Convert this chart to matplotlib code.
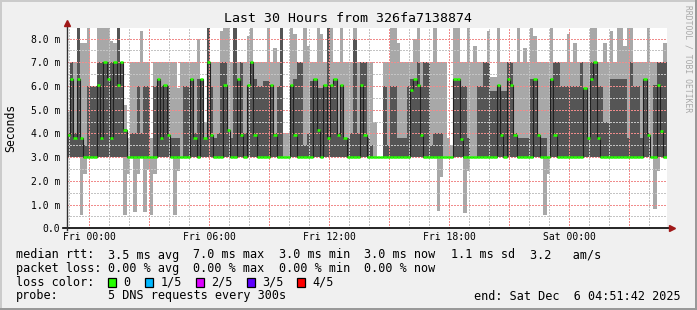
import numpy as np
import matplotlib
matplotlib.use("Agg")
import matplotlib.pyplot as plt
from matplotlib.lines import Line2D
from matplotlib.patches import Rectangle

W, H = 697, 310
MONO = "DejaVu Sans Mono"

# 180 bins of 10 minutes, first bin starts Thu 22:51:42 (end Sat 04:51:42)
bin_hours = 1.0 / 6.0
floor_ms = 3.0

# top of the light smoke (max ping), ms
hi_ms = [
    4.9, 7.0, 7.0, 9.0, 7.8, 7.8, 9.0, 6.0, 6.0, 9.0,
    9.0, 9.0, 9.0, 7.9, 7.8, 9.0, 7.0, 5.2, 3.8, 7.0,
    7.0, 7.0, 8.3, 7.0, 7.0, 3.8, 7.0, 7.0, 7.0, 7.0,
    7.0, 7.0, 7.0, 5.9, 7.0, 7.0, 7.0, 7.0, 7.0, 8.0,
    6.3, 4.5, 9.0, 7.0, 7.0, 7.0, 8.3, 9.0, 9.0, 7.0,
    9.0, 7.0, 7.0, 7.0, 8.1, 9.0, 7.0, 7.0, 7.0, 7.0,
    9.0, 7.0, 7.6, 7.0, 9.0, 4.0, 4.0, 9.0, 8.2, 7.0,
    7.0, 9.0, 7.7, 7.0, 7.0, 9.0, 8.2, 7.0, 9.0, 9.0,
    7.0, 7.0, 9.0, 7.0, 7.0, 7.0, 9.0, 7.0, 7.0, 7.0,
    7.0, 7.0, 4.5, 3.0, 3.0, 7.0, 7.0, 9.0, 9.0, 7.8,
    7.0, 7.0, 7.0, 7.0, 8.0, 9.0, 7.0, 7.0, 7.0, 7.0,
    9.0, 7.0, 7.0, 7.0, 3.8, 3.5, 9.0, 9.0, 7.0, 7.0,
    9.0, 7.0, 7.7, 7.0, 7.0, 7.0, 8.3, 6.4, 6.4, 9.0,
    7.0, 7.0, 7.0, 7.0, 7.0, 9.0, 7.0, 7.6, 7.0, 9.0,
    8.1, 7.0, 7.0, 7.0, 7.0, 9.0, 7.0, 7.0, 7.0, 7.0,
    8.2, 7.0, 7.8, 7.0, 7.0, 7.0, 7.0, 9.0, 9.0, 7.0,
    7.0, 7.8, 7.0, 8.3, 7.0, 9.0, 9.0, 7.7, 9.0, 9.0,
    7.0, 7.0, 7.0, 7.0, 9.0, 7.0, 7.0, 7.0, 7.0, 7.8,
]

# top of the dark smoke (inner pings), ms
dark_ms = [
    4.0, 7.0, 4.0, 9.0, 3.8, 3.5, 6.0, 6.0, 6.0, 7.0,
    7.0, 7.0, 7.0, 7.0, 7.0, 9.0, 7.0, 4.2, 3.0, 4.0,
    4.0, 6.0, 4.0, 6.0, 6.0, 3.0, 6.0, 6.3, 6.0, 6.05,
    6.0, 3.8, 3.8, 3.8, 3.0, 6.0, 6.0, 6.3, 4.0, 6.3,
    6.3, 3.8, 9.0, 6.0, 3.8, 4.0, 7.0, 7.0, 4.15, 3.8,
    9.0, 6.3, 7.0, 4.0, 6.05, 7.0, 6.3, 6.0, 6.0, 6.2,
    6.2, 6.05, 4.0, 6.0, 9.0, 3.0, 3.0, 6.05, 6.3, 7.0,
    7.0, 3.5, 4.0, 6.2, 6.3, 5.9, 5.9, 6.05, 9.0, 6.05,
    6.3, 4.0, 6.05, 3.8, 3.8, 4.0, 8.0, 4.0, 7.0, 7.0,
    3.8, 3.5, 3.0, 3.0, 3.0, 6.0, 3.5, 6.0, 6.0, 3.8,
    3.8, 3.8, 6.0, 6.3, 6.3, 7.0, 6.0, 7.0, 7.0, 3.5,
    4.0, 4.0, 4.0, 3.0, 3.0, 3.0, 6.3, 6.3, 6.0, 6.0,
    3.8, 3.0, 3.0, 6.0, 6.0, 7.0, 7.0, 5.8, 5.8, 6.05,
    5.8, 5.8, 7.0, 7.0, 4.0, 3.8, 3.8, 3.8, 3.8, 6.3,
    6.3, 4.0, 3.8, 3.8, 3.0, 6.3, 7.0, 7.0, 6.0, 6.0,
    6.0, 6.0, 6.0, 6.0, 7.0, 5.9, 3.8, 7.0, 7.0, 6.0,
    6.0, 4.5, 4.5, 6.3, 6.3, 6.3, 6.3, 6.3, 3.8, 7.0,
    6.0, 6.0, 3.8, 6.3, 4.0, 3.0, 6.05, 7.0, 7.0, 7.0,
]

# bottom of the light smoke (min ping), ms
lo_ms = [
    3.0, 3.0, 3.0, 3.0, 0.57, 2.3, 3.0, 3.0, 3.0, 3.0,
    3.0, 3.0, 3.0, 3.0, 3.0, 3.0, 3.0, 0.57, 2.3, 3.0,
    0.7, 2.3, 3.0, 0.7, 2.45, 0.57, 2.3, 3.0, 3.0, 3.0,
    3.0, 3.0, 0.57, 2.4, 3.0, 3.0, 3.0, 3.0, 3.0, 3.0,
    3.0, 3.0, 3.0, 3.0, 3.0, 3.0, 3.0, 3.0, 3.0, 3.0,
    3.0, 3.0, 3.0, 3.0, 3.0, 3.0, 3.0, 3.0, 3.0, 3.0,
    3.0, 3.0, 3.0, 3.0, 3.0, 3.0, 3.0, 3.0, 3.0, 3.0,
    3.0, 3.0, 3.0, 3.0, 3.0, 3.0, 3.0, 3.0, 3.0, 3.0,
    3.0, 3.0, 3.0, 3.0, 3.0, 3.0, 3.0, 3.0, 3.0, 3.0,
    3.0, 3.0, 3.0, 3.0, 3.0, 3.0, 3.0, 3.0, 3.0, 3.0,
    3.0, 3.0, 3.0, 3.0, 3.0, 3.0, 3.0, 3.0, 3.0, 3.0,
    3.0, 0.74, 2.18, 3.0, 3.0, 3.0, 3.0, 3.0, 3.0, 0.66,
    2.43, 3.0, 3.0, 3.0, 3.0, 3.0, 3.0, 3.0, 3.0, 3.0,
    3.0, 3.0, 3.0, 3.0, 3.0, 3.0, 3.0, 3.0, 3.0, 3.0,
    3.0, 3.0, 3.0, 0.56, 2.3, 3.0, 3.0, 3.0, 3.0, 3.0,
    3.0, 3.0, 3.0, 3.0, 3.0, 3.0, 3.0, 3.0, 3.0, 3.0,
    3.0, 3.0, 3.0, 3.0, 3.0, 3.0, 3.0, 3.0, 3.0, 3.0,
    3.0, 3.0, 3.0, 3.0, 3.0, 3.0, 0.81, 2.43, 3.0, 3.0,
]

# median rtt, ms
median_ms = [
    3.93, 6.3, 3.8, 6.3, 3.8, 3.0, 3.0, 3.0, 3.0, 6.05,
    3.8, 7.0, 6.3, 3.8, 7.0, 6.05, 7.0, 4.15, 3.0, 3.0,
    3.0, 3.0, 3.0, 3.0, 3.0, 3.0, 3.0, 6.3, 3.8, 6.05,
    3.93, 3.0, 3.0, 3.0, 3.0, 3.0, 3.0, 6.3, 3.8, 3.0,
    6.3, 3.8, 7.0, 3.93, 3.0, 3.0, 3.0, 6.05, 4.15, 3.0,
    3.0, 6.3, 3.93, 3.0, 6.05, 7.0, 3.93, 3.0, 3.0, 3.0,
    3.0, 6.05, 3.93, 3.0, 3.0, 3.0, 3.0, 6.05, 3.93, 3.0,
    3.0, 3.0, 3.0, 3.0, 6.3, 4.15, 3.0, 6.05, 3.8, 6.05,
    6.3, 3.93, 6.05, 3.8, 3.0, 3.0, 3.0, 3.0, 6.05, 3.93,
    3.0, 3.0, 3.0, 3.0, 3.0, 3.0, 3.0, 3.0, 3.0, 3.0,
    3.0, 3.0, 3.0, 5.85, 6.3, 6.05, 3.93, 3.0, 3.0, 3.0,
    3.0, 3.0, 3.0, 3.0, 3.0, 3.0, 6.3, 6.3, 3.75, 3.0,
    3.0, 3.0, 3.0, 3.0, 3.0, 3.0, 3.0, 3.0, 3.0, 6.05,
    3.93, 3.0, 6.3, 6.05, 3.93, 3.0, 3.0, 3.0, 3.0, 3.0,
    6.3, 3.93, 3.0, 3.0, 3.0, 6.3, 3.93, 3.0, 3.0, 3.0,
    3.0, 3.0, 3.0, 3.0, 3.0, 5.9, 3.8, 6.3, 7.0, 3.8,
    3.0, 3.0, 3.0, 3.0, 3.0, 3.0, 3.0, 3.0, 3.0, 3.0,
    3.0, 3.0, 3.0, 6.3, 3.93, 3.0, 3.0, 6.05, 4.1, 3.0,
]

# time axis (hours since graph start)
first_label_h = 1.0 + 8.0 / 60 + 18.0 / 3600   # Fri 00:00
x_labels = ["Fri 00:00", "Fri 06:00", "Fri 12:00", "Fri 18:00", "Sat 00:00"]
y_labels = ["0.0", "1.0 m", "2.0 m", "3.0 m", "4.0 m", "5.0 m", "6.0 m", "7.0 m", "8.0 m"]

loss_names = ["0", "1/5", "2/5", "3/5", "4/5"]
loss_colors = ["#26ff00", "#00b8ff", "#dd00ff", "#5e00ff", "#ff0000"]


def fx(x):
    return x / W


def fy(y):
    return 1 - y / H


fig = plt.figure(figsize=(W / 100, H / 100), dpi=100, facecolor="#f0f0f0")
ax = fig.add_axes([fx(66.7), fy(228.3), 600 / W, 200.6 / H])
ax.set_facecolor("white")
ax.set_xlim(0, 30)
ax.set_ylim(0, 8.46)
for s in ax.spines.values():
    s.set_visible(False)

t = np.arange(len(hi_ms) + 1) * bin_hours


def ext(v):
    return np.append(v, v[-1])


# smoke
ax.fill_between(t, ext(lo_ms), ext(hi_ms), step="post", color="#a8a8a8",
                lw=0, antialiased=False, zorder=1)
ax.fill_between(t, floor_ms, ext(dark_ms), step="post", color="#555555",
                lw=0, antialiased=False, zorder=1.5)

# grid, drawn over the smoke like rrdtool does
grid_kw = dict(lw=1.0, ls=(0, (1.4, 1.4)), antialiased=False, zorder=2)
major_h = first_label_h + 3 * np.arange(0, 10)
minor_h = [first_label_h - 1 + k for k in range(31) if k % 3 != 1]
for h in minor_h:
    if 0 < h < 30:
        ax.axvline(h, color="#c4c4c4", **grid_kw)
for h in major_h:
    if 0 < h < 30:
        ax.axvline(h, color="#f08c8c", **grid_kw)
for v in np.arange(0.5, 8.4, 1.0):
    ax.axhline(v, color="#c4c4c4", **grid_kw)
for v in range(1, 9):
    ax.axhline(v, color="#f08c8c", **grid_kw)

# median line + loss coloured stubs
ax.step(t, ext(median_ms), where="post", color="#202020", lw=0.8, zorder=3)
ax.hlines(median_ms, t[:-1], t[1:], colors=loss_colors[0], lw=1.8,
          capstyle="butt", zorder=4)

# axes lines with arrows
ax.plot([-0.006, 1.006], [0, 0], transform=ax.transAxes, color="black",
        lw=1.2, clip_on=False, zorder=5)
ax.plot([0, 0], [-0.01, 1.012], transform=ax.transAxes, color="#303030",
        lw=1.0, clip_on=False, zorder=5)
ax.plot([0], [1.021], marker="^", ms=4.2, color="#a01818",
        transform=ax.transAxes, clip_on=False, zorder=6)
ax.plot([1.008], [0], marker=">", ms=4.2, color="#a01818",
        transform=ax.transAxes, clip_on=False, zorder=6)

ax.set_xticks(first_label_h + 6 * np.arange(len(x_labels)), x_labels)
ax.set_yticks(range(len(y_labels)), y_labels)
ax.tick_params(length=0, labelsize=7)
ax.tick_params(axis="x", pad=2.6)
ax.tick_params(axis="y", pad=4.8)
for lab in ax.get_xticklabels() + ax.get_yticklabels():
    lab.set_fontfamily(MONO)

fig.text(fx(348), fy(19), "Last 30 Hours from 326fa7138874", ha="center",
         va="center", fontsize=9.5, family=MONO)
fig.text(fx(11), fy(128), "Seconds", rotation=90, ha="center", va="center",
         fontsize=8.3, family=MONO)
fig.text(fx(688), fy(5), "RRDTOOL / TOBI OETIKER", rotation=270, ha="center",
         va="top", fontsize=5.8, family=MONO, color="#a8a8a8")

# legend
lg = dict(fontsize=8.5, family=MONO, va="center", ha="left")
fig.text(fx(16), fy(255), "median rtt:", **lg)
fig.text(fx(16), fy(268.3), "packet loss:", **lg)
fig.text(fx(16), fy(282), "loss color:", **lg)
fig.text(fx(16), fy(296), "probe:", **lg)

cols = [107.6, 193.3, 279.1, 364.4, 451.1, 530.2]
rtt_parts = ["3.5 ms avg", "7.0 ms max", "3.0 ms min", "3.0 ms now",
             "1.1 ms sd", "3.2   am/s"]
loss_parts = ["0.00 % avg", "0.00 % max", "0.00 % min", "0.00 % now"]
for x, s in zip(cols, rtt_parts):
    fig.text(fx(x), fy(255), s, **lg)
for x, s in zip(cols, loss_parts):
    fig.text(fx(x), fy(268.3), s, **lg)

box_x = [108.4, 145.3, 196.0, 246.7, 297.3]
for x, name, c in zip(box_x, loss_names, loss_colors):
    fig.add_artist(Rectangle((fx(x), fy(286.7)), 8 / W, 9 / H, facecolor=c,
                             edgecolor="black", lw=0.9,
                             transform=fig.transFigure))
    fig.text(fx(x + 15.3), fy(282), name, **lg)

fig.text(fx(107.6), fy(296), "5 DNS requests every 300s", **lg)
fig.text(fx(681), fy(296), "end: Sat Dec  6 04:51:42 2025",
         fontsize=8.5, family=MONO, va="center", ha="right")

# 3d border
fig.add_artist(Line2D([0, 1], [fy(1), fy(1)], color="#cbcbcb", lw=1.44,
                      transform=fig.transFigure))
fig.add_artist(Line2D([fx(1), fx(1)], [0, 1], color="#cbcbcb", lw=1.44,
                      transform=fig.transFigure))
fig.add_artist(Line2D([0, 1], [fy(H - 1), fy(H - 1)], color="#999999",
                      lw=1.44, transform=fig.transFigure))
fig.add_artist(Line2D([fx(W - 1), fx(W - 1)], [0, 1], color="#999999",
                      lw=1.44, transform=fig.transFigure))

fig.savefig("out.png", dpi=100, facecolor=fig.get_facecolor())
